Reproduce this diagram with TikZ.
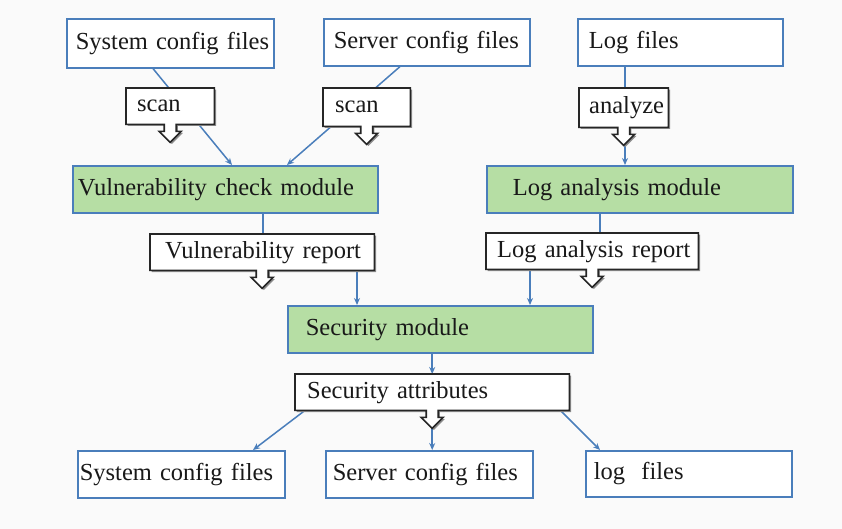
\documentclass[tikz,border=0pt]{standalone}
\usepackage{fontspec}
\setmainfont{Liberation Serif}
\usetikzlibrary{calc,arrows.meta,backgrounds}
\definecolor{bblue}{HTML}{4A7EBB}
\definecolor{gfill}{HTML}{B6DEA4}
\definecolor{bgc}{HTML}{FAFAFA}
\begin{document}
\begin{tikzpicture}[x=1pt,y=-1pt,
  every node/.style={font=\fontsize{24.5}{28}\selectfont, text=black!90, inner ysep=0pt, inner xsep=0pt, align=left, anchor=north west},
  pbox/.style n args={3}{minimum width=#1, text width=#1, minimum height=#2, execute at begin node={\hspace*{#3}}},
  wbox/.style={draw=bblue, line width=1.6pt, fill=white},
  gbox/.style={draw=bblue, line width=1.6pt, fill=gfill},
  arr/.style={draw=bblue, line width=1.5pt, -{Stealth[length=7pt,width=6pt]}},
  ln/.style={draw=bblue, line width=1.5pt},
  callout/.style={insert path={(#1.north west) -- (#1.north east) -- (#1.south east)
     -- ($(#1.south)+(6,0)$) -- ($(#1.south)+(6,7)$) -- ($(#1.south)+(11,7)$)
     -- ($(#1.south)+(0,18)$) -- ($(#1.south)+(-11,7)$) -- ($(#1.south)+(-6,7)$)
     -- ($(#1.south)+(-6,0)$) -- (#1.south west) -- cycle}},
  coshadow/.style={fill=black!45, transform canvas={xshift=1.6pt,yshift=-1.6pt}, callout=#1},
  coline/.style={draw=black!85, line width=1.6pt, fill=white, line join=miter, callout=#1}
]
\useasboundingbox (0,0) rectangle (842,529);

% top boxes
\node[wbox, pbox={207pt}{49pt}{9pt}] (sysA) at (66,18) {System~config~files};
\node[wbox, pbox={206pt}{47pt}{10pt}] (srvA) at (323,18) {Server~config~files};
\node[wbox, pbox={205pt}{47pt}{11pt}] (logA) at (577,18) {Log~files};

% callouts
\node[pbox={88pt}{36pt}{11pt}] (scanA) at (126,88) {scan};
\node[pbox={87pt}{38pt}{12pt}] (scanB) at (323,88) {scan};
\node[pbox={89pt}{39pt}{10pt}] (anz) at (579,88) {analyze};

% modules
\node[gbox, pbox={305pt}{47pt}{5pt}] (vcm) at (72,165) {Vulnerability~check~module};
\node[gbox, pbox={306pt}{47pt}{26pt}] (lam) at (486,165) {Log~analysis~module};

% reports
\node[pbox={224pt}{36pt}{15pt}] (vrep) at (150,234) {Vulnerability~report};
\node[pbox={212pt}{36pt}{11pt}] (lrep) at (486,233) {Log~analysis~report};

% security
\node[gbox, pbox={305pt}{47pt}{18pt}] (sec) at (287,305) {Security~module};
\node[pbox={274pt}{36pt}{12pt}] (attr) at (295,374) {Security~attributes};

% bottom boxes
\node[wbox, pbox={207pt}{47pt}{2pt}] (sysB) at (77,450) {System~config~files};
\node[wbox, pbox={207pt}{47pt}{7pt}] (srvB) at (325,450) {Server~config~files};
\node[wbox, pbox={206pt}{46pt}{8pt}] (logB) at (585,450) {log~~files};

\coordinate (atip) at ($(attr.south)+(0,18)$);

\begin{scope}[on background layer]
  \fill[bgc] (0,0) rectangle (842,529);
  % connectors
  \draw[arr] ($(sysA.south west)+(87,0)$) -- ($(vcm.north west)+(160,0)$);
  \draw[arr] ($(srvA.south west)+(77,0)$) -- ($(vcm.north west)+(215,0)$);
  \draw[arr] ($(logA.south west)+(48,0)$) coordinate (l1) -- (l1 |- lam.north);
  \draw[ln] ($(vcm.south west)+(191,0)$) coordinate (v1) -- (v1 |- vrep.north);
  \draw[arr] ($(vrep.south west)+(207,0)$) coordinate (v2) -- (v2 |- sec.north);
  \draw[ln] ($(lam.south west)+(114,0)$) coordinate (l2) -- (l2 |- lrep.north);
  \draw[arr] ($(lrep.south west)+(44,0)$) coordinate (l3) -- (l3 |- sec.north);
  \draw[arr] (attr.north |- sec.south) -- (attr.north);
  \draw[arr] (atip) -- (atip |- srvB.north);
  \draw[arr] ($(attr.south west)+(10,0)$) -- ($(sysB.north west)+(176,0)$);
  \draw[arr] ($(attr.south east)+(-9,0)$) -- ($(logB.north west)+(15,0)$);
  % callout outlines
  \foreach \c in {scanA,scanB,anz,vrep,lrep,attr}{
    \path[coshadow=\c];
    \path[coline=\c];
  }
\end{scope}
\end{tikzpicture}
\end{document}
